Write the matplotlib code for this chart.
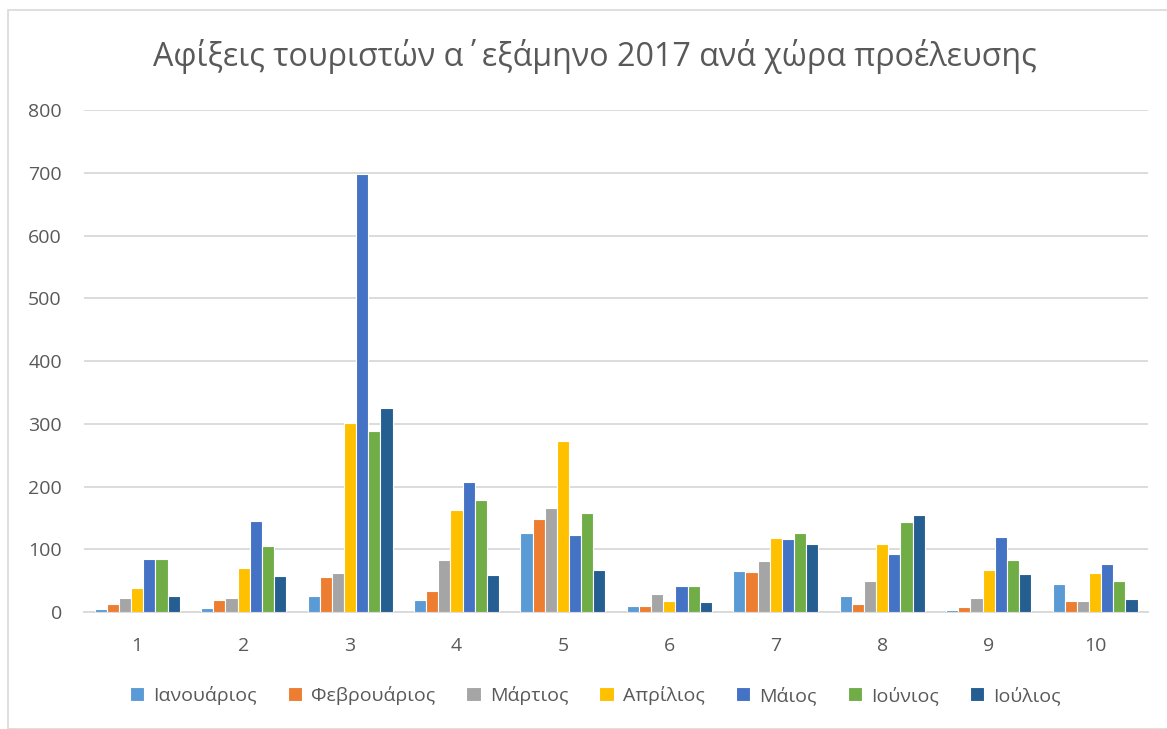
import numpy as np
import matplotlib.pyplot as plt
from matplotlib.patches import Rectangle

plt.rcParams['font.family'] = ['Open Sans', 'DejaVu Sans']

countries = ["1", "2", "3", "4", "5", "6", "7", "8", "9", "10"]
months = ["Ιανουάριος", "Φεβρουάριος", "Μάρτιος", "Απρίλιος", "Μάιος", "Ιούνιος", "Ιούλιος"]
colors = ["#5B9BD5", "#ED7D31", "#A5A5A5", "#FFC000", "#4472C4", "#70AD47", "#255E91"]

jan = [5, 6, 25, 19, 126, 10, 65, 25, 3, 44]
feb = [12, 19, 56, 34, 149, 9, 63, 13, 8, 18]
mar = [22, 23, 62, 83, 165, 28, 82, 50, 22, 18]
apr = [39, 70, 302, 162, 272, 18, 118, 109, 67, 62]
may = [85, 145, 698, 207, 122, 42, 117, 92, 120, 76]
jun = [84, 105, 288, 178, 157, 41, 126, 144, 83, 50]
jul = [25, 58, 325, 59, 67, 16, 108, 155, 61, 20]
series = [jan, feb, mar, apr, may, jun, jul]

fig = plt.figure(figsize=(11.67, 7.29), dpi=100)
ax = fig.add_axes([0.072, 0.1605, 0.912, 0.6885])

x = np.arange(len(countries))
w = 0.114
for i, (vals, c, m) in enumerate(zip(series, colors, months)):
    ax.bar(x + (i - 3) * w, vals, width=w, color=c, edgecolor="white", linewidth=0.8, label=m, zorder=3)

ax.set_xlim(-0.5, len(countries) - 0.5)
ax.set_ylim(0, 800)
ax.set_yticks(range(0, 801, 100))
ax.set_xticks(x)
ax.set_xticklabels(countries)
ax.grid(axis="y", color="#D9D9D9", linewidth=1.3, zorder=0)
for s in ["top", "right", "left"]:
    ax.spines[s].set_visible(False)
ax.spines["bottom"].set_color("#D9D9D9")
ax.spines["bottom"].set_linewidth(1.3)
ax.tick_params(axis="both", length=0, labelsize=14, colors="#595959", pad=18)
ax.tick_params(axis="y", pad=16)

fig.text(0.51, 0.922, "Αφίξεις τουριστών α΄εξάμηνο 2017 ανά χώρα προέλευσης",
         ha="center", va="center", fontsize=23.2, color="#595959")

leg = fig.legend(loc="center", bbox_to_anchor=(0.51, 0.046), ncol=7, frameon=False,
                 fontsize=14, handlelength=0.75, handleheight=0.75, handletextpad=0.45,
                 columnspacing=1.6, labelcolor="#595959")

fig.patches.append(Rectangle((8 / 1167, 0), 1.2, 1 - 10 / 729, transform=fig.transFigure,
                             fill=False, edgecolor="#D9D9D9", linewidth=1.2))

fig.savefig("out.png", dpi=100)
